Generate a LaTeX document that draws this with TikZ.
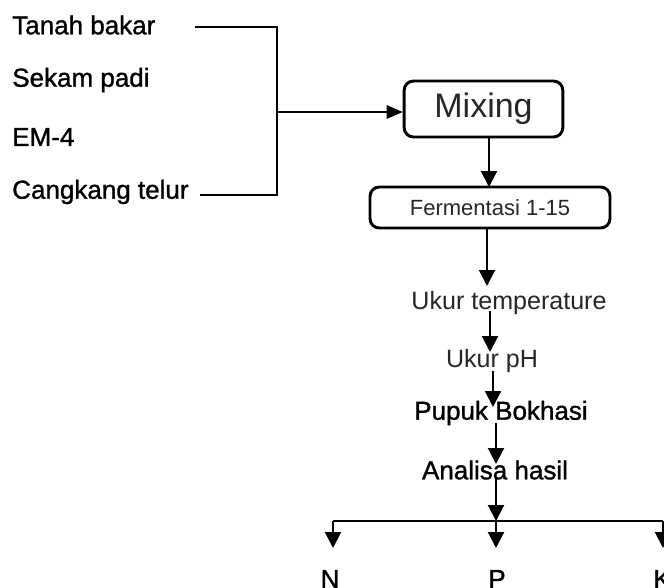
\documentclass[tikz,border=0pt]{standalone}
\usepackage{fontspec}
\setmainfont{Liberation Sans}
\newfontfamily\medfont[FakeBold=1.2]{Liberation Sans}
\usetikzlibrary{arrows.meta}
\tikzset{
  conn/.style={line width=1.5pt, draw=black},
  arr/.style={conn, -{Triangle[width=12pt,length=12pt]}},
  sidearr/.style={conn, -{Triangle[width=10pt,length=12pt]}},
  lbl/.style={inner sep=0pt, font=\medfont\fontsize{19.5}{21}\selectfont},
  plain/.style={inner sep=0pt, font=\fontsize{18.8}{20}\selectfont, text=black!85},
  boxnode/.style={draw, line width=2.2pt, rounded corners=7pt, inner sep=0pt}
}
\begin{document}
\begin{tikzpicture}[x=0.75pt,y=-0.75pt]
\useasboundingbox (0,0) rectangle (664,587);
% inputs
\node[lbl, anchor=west] (tb) at (12,25) {Tanah bakar};
\node[lbl, anchor=west] (sp) at (12,80) {Sekam padi};
\node[lbl, anchor=west] (em) at (12,137) {EM-4};
\node[lbl, anchor=west] (ct) at (12,192) {Cangkang telur};
% boxes
\node[boxnode, minimum width=119pt, minimum height=42pt,
      font=\fontsize{25.5}{28}\selectfont, text=black!85] (mix) at (483.5,109) {Mixing};
\node[boxnode, minimum width=180pt, minimum height=30.75pt,
      font=\fontsize{16.5}{18}\selectfont, text=black!85] (fer) at (490,207.5) {Fermentasi 1-15};
% steps
\node[plain] (ut) at (509,303) {Ukur temperature};
\node[plain] (uph) at (492,361) {Ukur pH};
\node[lbl] (pb) at (501,413) {Pupuk Bokhasi};
\node[lbl] (ah) at (495,470) {Analisa hasil};
\node[lbl] (n) at (330,579) {N};
\node[lbl] (p) at (497,579) {P};
\node[lbl] (k) at (662,579) {K};
% bracket
\coordinate (t1) at (195,27);
\coordinate (t2) at (277,27);
\coordinate (b1) at (200,195);
\coordinate (b2) at (277,195);
\coordinate (m1) at (277,112);
\draw[conn] (t1) -- (t2) -- (b2) -- (b1);
\draw[sidearr] (m1) -- (mix.west |- m1);
% main chain
\coordinate (a1) at (489,137);
\coordinate (a1e) at (489,187);
\draw[arr] (a1) -- (a1e);
\coordinate (a2) at (487,228);
\coordinate (a2e) at (487,286);
\draw[arr] (a2) -- (a2e);
\coordinate (a3) at (490,311);
\coordinate (a3e) at (490,352);
\draw[arr] (a3) -- (a3e);
\coordinate (a4) at (493,371);
\coordinate (a4e) at (493,407);
\draw[arr] (a4) -- (a4e);
\coordinate (a5) at (496,423);
\coordinate (a5e) at (496,464);
\draw[arr] (a5) -- (a5e);
\coordinate (a6) at (496,478);
\coordinate (j) at (496,521);
\draw[arr] (a6) -- (j);
% split
\coordinate (jl) at (333,521);
\coordinate (jr) at (663,521);
\draw[conn] (jl) -- (jr);
\draw[arr] (jl) -- (jl |- 0,548);
\draw[arr] (j) -- (j |- 0,548);
\draw[arr] (jr) -- (jr |- 0,548);
\end{tikzpicture}
\end{document}
